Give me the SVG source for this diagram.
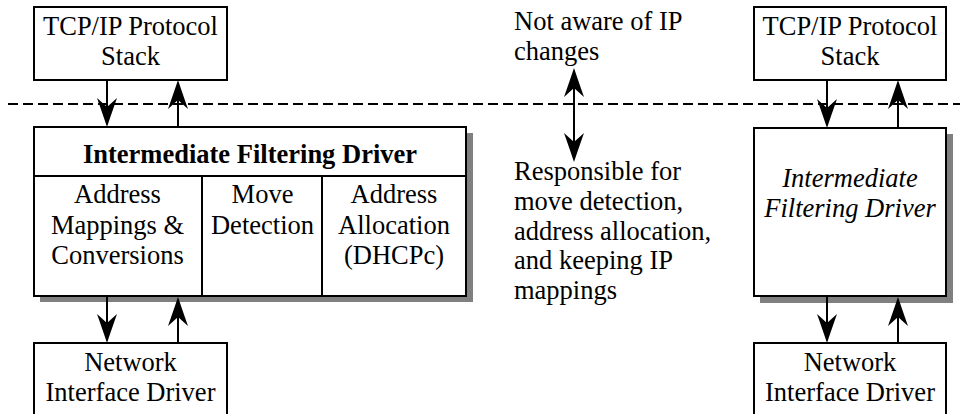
<svg xmlns="http://www.w3.org/2000/svg" width="960" height="414" viewBox="0 0 960 414">
<style>
.box{fill:#fff;stroke:#000;stroke-width:2}
.shadow{fill:#808080;stroke:none}
.t{font-family:"Liberation Serif","Times New Roman",serif;font-size:26.5px;fill:#000}
.c{text-anchor:middle}
.b{font-weight:bold}
.i{font-style:italic}
.ln{stroke:#000;stroke-width:2;fill:none}
.dash{stroke:#000;stroke-width:2;stroke-dasharray:10 5;fill:none}
</style>
<defs>
<marker id="ah" viewBox="-10 -11 32 22" refX="0" refY="0" markerWidth="32" markerHeight="22" markerUnits="userSpaceOnUse" orient="auto-start-reverse">
<path d="M20,0 Q8,-4 -9,-10 L0,0 L-9,10 Q8,4 20,0 Z" fill="#000"/>
</marker>
</defs>
<rect width="960" height="414" fill="#fff"/>
<line class="dash" x1="8" y1="104" x2="960" y2="104"/>
<g id="tcp-left">
<rect class="box" x="34" y="7" width="193" height="73"/>
<text class="t c" x="130.5" y="35">TCP/IP Protocol</text>
<text class="t c" x="130.5" y="65">Stack</text>
</g>
<g id="ifd-left">
<rect class="shadow" x="40" y="133" width="433" height="169"/>
<rect class="box" x="34" y="127" width="432" height="169"/>
<line class="ln" x1="34" y1="176" x2="466" y2="176"/>
<line class="ln" x1="202" y1="176" x2="202" y2="296"/>
<line class="ln" x1="322" y1="176" x2="322" y2="296"/>
<text class="t c b" x="250" y="163">Intermediate Filtering Driver</text>
<text class="t c" x="117.5" y="203">Address</text>
<text class="t c" x="117.5" y="234">Mappings &amp;</text>
<text class="t c" x="117.5" y="264">Conversions</text>
<text class="t c" x="262.5" y="203">Move</text>
<text class="t c" x="262.5" y="234">Detection</text>
<text class="t c" x="394" y="203">Address</text>
<text class="t c" x="394" y="234">Allocation</text>
<text class="t c" x="394" y="264">(DHCPc)</text>
</g>
<g id="nid-left">
<rect class="box" x="34" y="343" width="193" height="80"/>
<text class="t c" x="130.5" y="371">Network</text>
<text class="t c" x="130.5" y="401">Interface Driver</text>
</g>
<g id="note-top">
<text class="t" x="514" y="30">Not aware of IP</text>
<text class="t" x="514" y="60">changes</text>
</g>
<g id="note-bottom">
<text class="t" x="514" y="180">Responsible for</text>
<text class="t" x="514" y="210">move detection,</text>
<text class="t" x="514" y="240">address allocation,</text>
<text class="t" x="514" y="269">and keeping IP</text>
<text class="t" x="514" y="299">mappings</text>
</g>
<g id="tcp-right">
<rect class="box" x="754" y="7" width="192" height="73"/>
<text class="t c" x="850" y="35">TCP/IP Protocol</text>
<text class="t c" x="850" y="65">Stack</text>
</g>
<g id="ifd-right">
<rect class="shadow" x="760" y="134" width="193" height="169"/>
<rect class="box" x="754" y="128" width="192" height="168"/>
<text class="t c i" x="850" y="187">Intermediate</text>
<text class="t c i" x="850" y="217">Filtering Driver</text>
</g>
<g id="nid-right">
<rect class="box" x="754" y="343" width="192" height="80"/>
<text class="t c" x="850" y="371">Network</text>
<text class="t c" x="850" y="401">Interface Driver</text>
</g>
<g id="connectors">
<line class="ln" x1="107" y1="80" x2="107" y2="107" marker-end="url(#ah)"/>
<line class="ln" x1="178" y1="127" x2="178" y2="100" marker-end="url(#ah)"/>
<line class="ln" x1="107" y1="296" x2="107" y2="323" marker-end="url(#ah)"/>
<line class="ln" x1="178" y1="343" x2="178" y2="317" marker-end="url(#ah)"/>
<line class="ln" x1="827" y1="80" x2="827" y2="108" marker-end="url(#ah)"/>
<line class="ln" x1="898" y1="128" x2="898" y2="100" marker-end="url(#ah)"/>
<line class="ln" x1="827" y1="296" x2="827" y2="323" marker-end="url(#ah)"/>
<line class="ln" x1="898" y1="343" x2="898" y2="317" marker-end="url(#ah)"/>
<line class="ln" x1="574" y1="88" x2="574" y2="142" marker-start="url(#ah)" marker-end="url(#ah)"/>
</g>
</svg>
